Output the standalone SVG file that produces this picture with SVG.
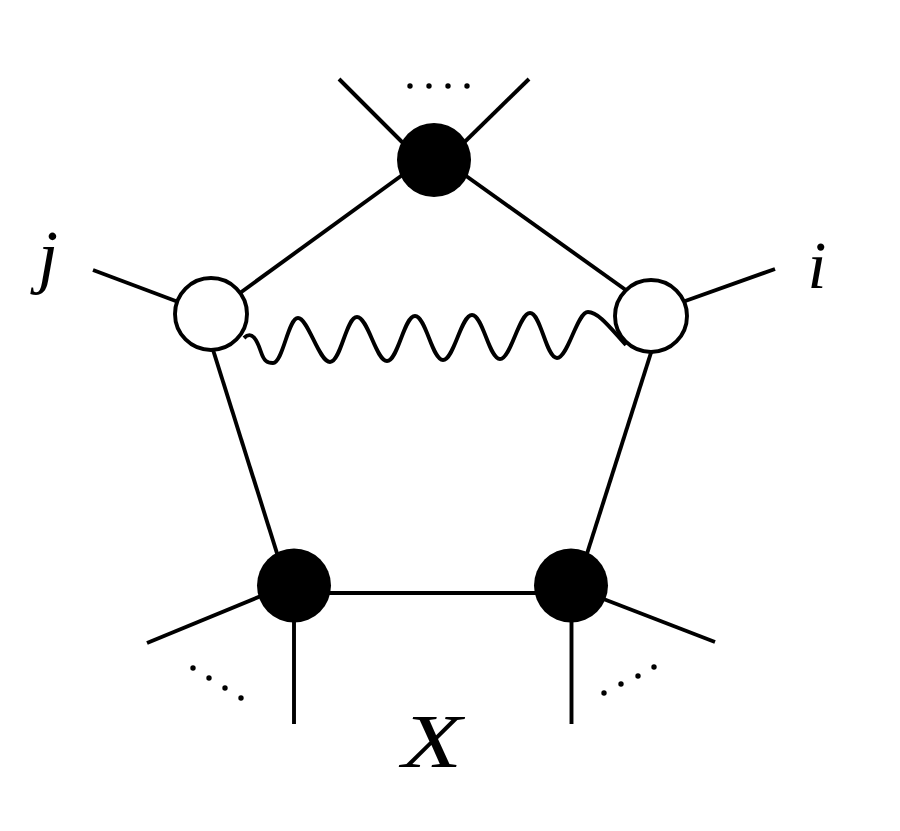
<svg xmlns="http://www.w3.org/2000/svg" width="900" height="831" viewBox="0 0 900 831">
<style>
.ln{stroke:#000;stroke-width:3.9;fill:none;stroke-linecap:butt}
.blk{fill:#000}
.opn{fill:#fff;stroke:#000;stroke-width:3.9}
.lbl{font-family:"Liberation Serif",serif;font-style:italic;fill:#000}
.dot{fill:#000}
</style>
<rect width="900" height="831" fill="#fff"/>
<g id="connectors">
<line class="ln" x1="434" y1="152" x2="211" y2="314"/>
<line class="ln" x1="434" y1="153" x2="651" y2="308"/>
<line class="ln" x1="203" y1="318" x2="287" y2="585"/>
<line class="ln" x1="663" y1="315" x2="577" y2="585"/>
<line class="ln" x1="294" y1="593" x2="571" y2="593"/>
<line class="ln" x1="339" y1="79" x2="430" y2="170"/>
<line class="ln" x1="529" y1="79" x2="437" y2="169"/>
<line class="ln" x1="93" y1="270" x2="205" y2="312"/>
<line class="ln" x1="775" y1="269" x2="660" y2="310"/>
<line class="ln" x1="147" y1="643" x2="290" y2="584"/>
<line class="ln" x1="715" y1="642" x2="575" y2="588"/>
<line class="ln" x1="294" y1="585" x2="294" y2="724"/>
<line class="ln" x1="571.5" y1="585" x2="571.5" y2="724"/>
<path id="photon" class="ln" d="M 244 338 C 252 330, 257 340, 261 352 C 264 361, 267 363, 273 363 C 283 363, 288 318, 298 318 S 319 362, 330 362 S 346 317, 357 317 S 376 361, 387 361 S 404 316, 415 316 S 432 360, 443 360 S 461 315, 472 315 S 489 359, 500 359 S 519 313, 530 313 S 546 358, 557 358 S 577 312, 588 312 S 612 330, 626 345"/>
</g>
<g id="node-top"><circle class="blk" cx="434" cy="160" r="37"/></g>
<g id="node-j"><circle class="opn" cx="211" cy="314" r="36"/></g>
<g id="node-i"><circle class="opn" cx="651" cy="316" r="36"/></g>
<g id="node-bl"><circle class="blk" cx="294" cy="585.5" r="37"/></g>
<g id="node-br"><circle class="blk" cx="571" cy="585.5" r="37"/></g>
<g id="dots-top">
<circle class="dot" cx="410" cy="86" r="2.7"/>
<circle class="dot" cx="429" cy="86" r="2.7"/>
<circle class="dot" cx="448" cy="86" r="2.7"/>
<circle class="dot" cx="467" cy="86" r="2.7"/>
</g>
<g id="dots-bl">
<circle class="dot" cx="193" cy="668" r="2.7"/>
<circle class="dot" cx="209" cy="678" r="2.7"/>
<circle class="dot" cx="225" cy="688" r="2.7"/>
<circle class="dot" cx="241" cy="698" r="2.7"/>
</g>
<g id="dots-br">
<circle class="dot" cx="604" cy="693" r="2.7"/>
<circle class="dot" cx="621" cy="684" r="2.7"/>
<circle class="dot" cx="638" cy="676" r="2.7"/>
<circle class="dot" cx="654" cy="667" r="2.7"/>
</g>
<g id="labels">
<text class="lbl" x="48" y="280" font-size="72" text-anchor="middle">j</text>
<text class="lbl" x="817" y="288" font-size="68" text-anchor="middle">i</text>
<text class="lbl" x="402" y="767" font-size="76" textLength="60" lengthAdjust="spacingAndGlyphs">X</text>
</g>
</svg>
